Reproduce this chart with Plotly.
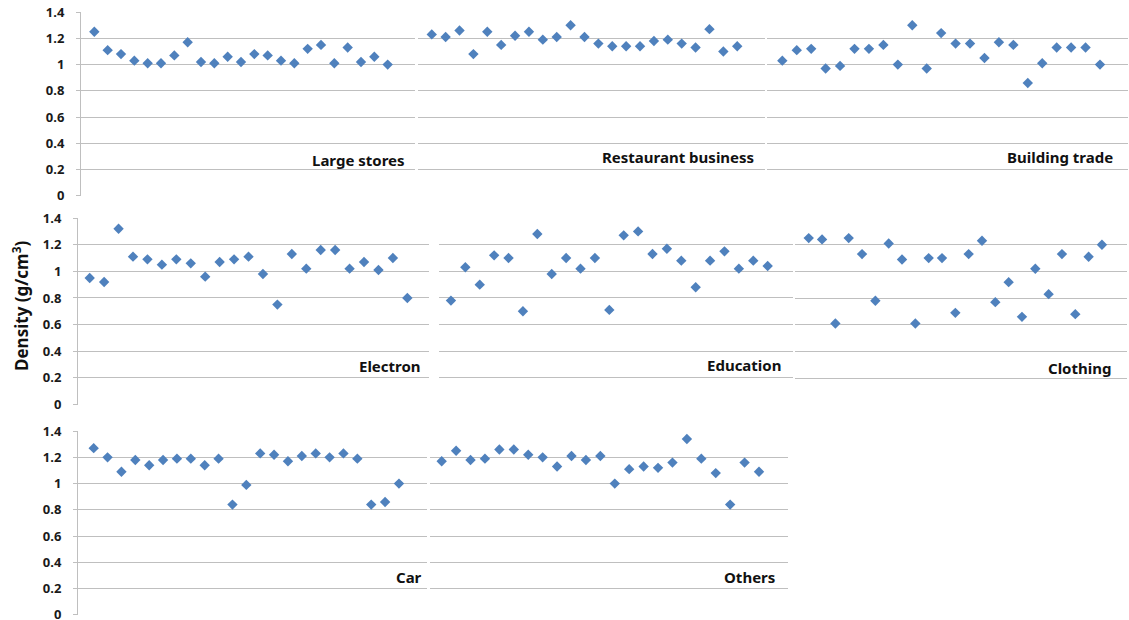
import plotly.graph_objects as go

# ---- data ----
sample_no = list(range(1, 24))

large_stores = [1.25, 1.11, 1.08, 1.03, 1.01, 1.01, 1.07, 1.17, 1.02, 1.01, 1.06, 1.02,
                1.08, 1.07, 1.03, 1.01, 1.12, 1.15, 1.01, 1.13, 1.02, 1.06, 1.00]
restaurant = [1.23, 1.21, 1.26, 1.08, 1.25, 1.15, 1.22, 1.25, 1.19, 1.21, 1.30, 1.21,
              1.16, 1.14, 1.14, 1.14, 1.18, 1.19, 1.16, 1.13, 1.27, 1.10, 1.14]
building = [1.03, 1.11, 1.12, 0.97, 0.99, 1.12, 1.12, 1.15, 1.00, 1.30, 0.97, 1.24,
            1.16, 1.16, 1.05, 1.17, 1.15, 0.86, 1.01, 1.13, 1.13, 1.13, 1.00]
electron = [0.95, 0.92, 1.32, 1.11, 1.09, 1.05, 1.09, 1.06, 0.96, 1.07, 1.09, 1.11,
            0.98, 0.75, 1.13, 1.02, 1.16, 1.16, 1.02, 1.07, 1.01, 1.10, 0.80]
education = [0.78, 1.03, 0.90, 1.12, 1.10, 0.70, 1.28, 0.98, 1.10, 1.02, 1.10, 0.71,
             1.27, 1.30, 1.13, 1.17, 1.08, 0.88, 1.08, 1.15, 1.02, 1.08, 1.04]
clothing = [1.25, 1.24, 0.61, 1.25, 1.13, 0.78, 1.21, 1.09, 0.61, 1.10, 1.10, 0.69,
            1.13, 1.23, 0.77, 0.92, 0.66, 1.02, 0.83, 1.13, 0.68, 1.11, 1.20]
car = [1.27, 1.20, 1.09, 1.18, 1.14, 1.18, 1.19, 1.19, 1.14, 1.19, 0.84, 0.99,
       1.23, 1.22, 1.17, 1.21, 1.23, 1.20, 1.23, 1.19, 0.84, 0.86, 1.00]
others = [1.17, 1.25, 1.18, 1.19, 1.26, 1.26, 1.22, 1.20, 1.13, 1.21, 1.18, 1.21,
          1.00, 1.11, 1.13, 1.12, 1.16, 1.34, 1.19, 1.08, 0.84, 1.16, 1.09]

panel_names = ["Large stores", "Restaurant business", "Building trade",
               "Electron", "Education", "Clothing", "Car", "Others"]
panel_values = [large_stores, restaurant, building, electron, education, clothing, car, others]

y_ticks = [0, 0.2, 0.4, 0.6, 0.8, 1, 1.2, 1.4]
y_tick_text = ["0", "0.2", "0.4", "0.6", "0.8", "1", "1.2", "1.4"]
y_title = "Density (g/cm<sup>3</sup>)"

# ---- layout geometry (screen pixels; page body margin removed below) ----
W, H = 1129, 620


def px(xp):
    return xp / W


def py(yp):
    return 1 - yp / H


# left, right, top, bottom (pixels), x-range, show y axis labels, label (right px, center y px)
boxes = [
    (81, 415, 12, 196, [0.0, 25.05], True, (407, 160)),
    (418, 765, 12, 196, [0.01, 25.0], False, (756, 157)),
    (767, 1128, 12, 196, [-0.06, 24.94], False, (1115, 157)),
    (78, 429, 218, 404.5, [0.19, 24.5], True, (423, 366)),
    (439, 793, 218, 404.5, [0.17, 24.76], False, (783, 365)),
    (795, 1127, 218, 405, [-0.03, 24.88], False, (1113, 368)),
    (78, 427, 431, 615, [-0.13, 25.02], True, (424, 577)),
    (430, 788, 431, 615, [0.19, 25.01], False, (777, 577)),
]

FONT = "Noto Sans"
GRID = "#BFBFBF"
MARK = "#4F81BD"

fig = go.Figure()
annotations = []
layout_axes = {}

for i, (name, vals, box) in enumerate(zip(panel_names, panel_values, boxes)):
    l, r, t, b, xr, showlab, (lx, ly) = box
    n = i + 1
    xa = "x" if n == 1 else f"x{n}"
    ya = "y" if n == 1 else f"y{n}"
    fig.add_trace(go.Scatter(
        x=sample_no, y=vals, mode="markers", xaxis=xa, yaxis=ya,
        marker=dict(symbol="diamond", size=8, color=MARK),
        showlegend=False, hoverinfo="skip", cliponaxis=False))
    xkey = "xaxis" if n == 1 else f"xaxis{n}"
    ykey = "yaxis" if n == 1 else f"yaxis{n}"
    layout_axes[xkey] = dict(
        domain=[px(l), min(px(r), 1.0)], range=xr, anchor=ya, automargin=False,
        showgrid=False, zeroline=False, showline=False,
        showticklabels=False, ticks="", fixedrange=True)
    layout_axes[ykey] = dict(
        domain=[py(b), py(t)], range=[-0.0005, 1.4005], anchor=xa,
        automargin=False,
        tickvals=y_ticks, ticktext=y_tick_text,
        showticklabels=showlab, ticklabeloverflow="allow",
        showgrid=True, gridcolor=GRID, gridwidth=1,
        zeroline=False,
        showline=showlab, linecolor=GRID, linewidth=1,
        ticks="outside" if showlab else "", ticklen=4, tickcolor=GRID,
        ticklabelstandoff=9,
        tickfont=dict(family=FONT, size=13, color="#1a1a1a", weight="bold"),
        fixedrange=True)
    annotations.append(dict(
        text=f"<b>{name}</b>", x=px(lx), y=py(ly), xref="paper", yref="paper",
        xanchor="right", yanchor="middle", showarrow=False,
        font=dict(family=FONT, size=15, color="#111111")))

annotations.append(dict(
    text=f"<b>{y_title}</b>", x=px(20), y=py(306), xref="paper", yref="paper",
    xanchor="center", yanchor="middle", showarrow=False, textangle=-90,
    font=dict(family=FONT, size=17, color="#111111")))

fig.update_layout(
    width=W, height=H,
    margin=dict(l=0, r=0, t=0, b=0, autoexpand=False),
    paper_bgcolor="white", plot_bgcolor="white",
    annotations=annotations,
    **layout_axes)

fig.write_html(
    "out.html",
    config={"displayModeBar": False, "staticPlot": True},
    post_script="document.body.style.margin='0';document.body.style.overflow='hidden';")
